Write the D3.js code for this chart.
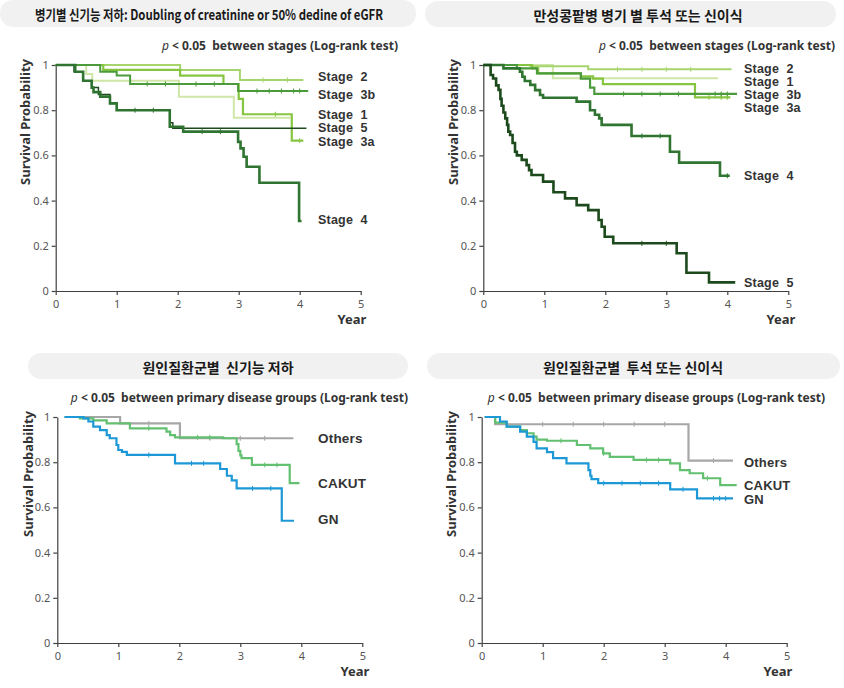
<!DOCTYPE html>
<html><head><meta charset="utf-8">
<script src="https://cdn.jsdelivr.net/npm/d3@7"></script>
<style>
body{margin:0;background:#fff;}
svg{display:block;}
</style></head>
<body><svg id="c" width="844" height="688"></svg>
<script>
// ---------- DATA ----------
const titles = ["병기별 신기능 저하: Doubling of creatinine or 50% dedine of eGFR",
                "만성콩팥병 병기 별 투석 또는 신이식",
                "원인질환군별  신기능 저하",
                "원인질환군별  투석 또는 신이식"];
const subtitles = ["between stages (Log-rank test)", "between stages (Log-rank test)",
                   "between primary disease groups (Log-rank test)", "between primary disease groups (Log-rank test)"];
const xTicks = [0, 1, 2, 3, 4, 5];
const yTicks = [0, 0.2, 0.4, 0.6, 0.8, 1];
const stageNames = ["Stage  1", "Stage  2", "Stage  3a", "Stage  3b", "Stage  4", "Stage  5"];
const groupNames = ["Others", "CAKUT", "GN"];

// Panel 1: kidney function decline by stage  [year, survival]
const p1Stage1 = [[0,1],[0.5,0.96],[0.6,0.93],[2.02,0.86],[2.92,0.767],[3.85,0.767]];
const p1Stage2 = [[0,1],[2.04,0.978],[3.02,0.934],[4.06,0.934]];
const p1Stage3a = [[0,1],[0.78,0.978],[2.04,0.953],[2.75,0.916],[3.0,0.85],[3.07,0.782],[3.87,0.665],[4.06,0.665]];
const p1Stage3b = [[0,1],[0.73,0.97],[1.0,0.953],[1.22,0.916],[2.99,0.885],[4.14,0.885]];
const p1Stage4 = [[0,1],[0.32,0.97],[0.45,0.93],[0.59,0.9],[0.62,0.88],[0.73,0.86],[0.89,0.83],[1.0,0.80],[1.87,0.727],[2.09,0.705],[2.99,0.66],[3.03,0.631],[3.08,0.594],[3.13,0.55],[3.34,0.479],[3.99,0.31],[4.03,0.31]];
const p1Stage5 = [[0,1],[0.3,0.97],[0.45,0.93],[0.59,0.9],[0.7,0.87],[0.89,0.83],[1.0,0.80],[1.87,0.745],[1.92,0.72],[4.11,0.72]];

// Panel 2: dialysis or transplant by stage
const p2Stage1 = [[0,1],[1.14,0.941],[3.85,0.941]];
const p2Stage2 = [[0,1],[0.77,0.995],[1.72,0.981],[4.07,0.981]];
const p2Stage3a = [[0,1],[0.8,0.985],[0.9,0.963],[1.6,0.95],[1.8,0.94],[1.96,0.915],[3.47,0.857],[4.05,0.857]];
const p2Stage3b = [[0,1],[0.55,0.985],[0.88,0.963],[1.6,0.94],[1.75,0.9],[1.82,0.872],[4.16,0.872]];
const p2Stage4 = [[0,1],[0.33,0.985],[0.6,0.97],[0.64,0.948],[0.68,0.929],[0.77,0.912],[0.85,0.889],[0.93,0.867],[0.98,0.855],[1.53,0.838],[1.75,0.8],[1.83,0.78],[1.9,0.764],[1.94,0.735],[2.43,0.686],[3.06,0.616],[3.21,0.568],[3.88,0.51],[4.04,0.51]];
const p2Stage5 = [[0,1],[0.12,0.956],[0.16,0.94],[0.21,0.91],[0.25,0.89],[0.28,0.85],[0.3,0.82],[0.33,0.79],[0.36,0.764],[0.39,0.735],[0.41,0.705],[0.44,0.69],[0.48,0.655],[0.52,0.616],[0.55,0.60],[0.63,0.58],[0.71,0.557],[0.75,0.535],[0.79,0.513],[0.98,0.484],[1.15,0.437],[1.34,0.41],[1.53,0.38],[1.72,0.358],[1.89,0.314],[1.94,0.284],[1.99,0.24],[2.13,0.211],[3.17,0.167],[3.33,0.081],[3.70,0.038],[4.13,0.038]];

// Panel 3: kidney function decline by primary disease
const p3Others = [[0.12,1],[1.03,0.972],[2.01,0.906],[3.87,0.906]];
const p3Cakut = [[0.12,1],[0.37,0.994],[0.59,0.985],[0.81,0.972],[1.19,0.95],[1.79,0.935],[1.85,0.92],[1.93,0.91],[2.72,0.906],[2.94,0.88],[2.97,0.85],[3.0,0.83],[3.02,0.818],[3.19,0.788],[3.81,0.707],[3.97,0.707]];
const p3Gn = [[0.12,1],[0.43,0.994],[0.51,0.98],[0.59,0.957],[0.7,0.942],[0.81,0.92],[0.86,0.906],[0.97,0.876],[1.0,0.854],[1.06,0.846],[1.14,0.832],[1.93,0.795],[2.67,0.77],[2.78,0.74],[2.86,0.72],[2.94,0.684],[3.68,0.541],[3.88,0.541]];

// Panel 4: dialysis or transplant by primary disease
const p4Others = [[0.05,1],[0.22,0.968],[3.39,0.807],[4.12,0.807]];
const p4Cakut = [[0.05,1],[0.22,0.975],[0.41,0.957],[0.63,0.942],[0.74,0.928],[0.85,0.913],[0.9,0.9],[1.07,0.895],[1.56,0.876],[1.78,0.861],[1.99,0.839],[2.1,0.824],[2.49,0.81],[3.09,0.795],[3.25,0.765],[3.41,0.751],[3.63,0.729],[3.91,0.699],[4.18,0.699]];
const p4Gn = [[0.05,1],[0.3,0.98],[0.41,0.957],[0.63,0.935],[0.74,0.913],[0.85,0.89],[0.9,0.861],[1.07,0.845],[1.17,0.818],[1.39,0.795],[1.75,0.765],[1.78,0.74],[1.8,0.725],[1.91,0.707],[3.09,0.68],[3.53,0.64],[4.12,0.64]];

// censor mark times
const p1Censor = {"Stage  3b":[1.5,1.8,2.3,2.6,3.3,3.5,3.7,3.9,4.0],"Stage  4":[1.3,1.6,2.4,2.7],"Stage  3a":[3.6,4.0],"Stage  2":[3.4,3.8]};
const p2Censor = {"Stage  2":[2.2,2.6,3.0,3.4],"Stage  3b":[2.3,2.6,2.9,3.2,3.8,3.9,4.0],"Stage  3a":[3.7,3.9,4.0],"Stage  4":[2.6,2.9,4.0],"Stage  5":[2.6,3.0]};
const p3Censor = {"Others":[1.5,2.5,3.0,3.4],"CAKUT":[1.5,2.3,2.5,3.4,3.6],"GN":[1.5,2.2,2.4,3.2,3.5]};
const p4Censor = {"Others":[1.0,1.5,2.0,2.5,3.0,3.8],"CAKUT":[1.3,2.0,2.7,2.9,3.7],"GN":[2.0,2.3,2.6,2.9,3.3,3.8,3.9,4.0]};

// ---------- DRAW ----------
const svg = d3.select("#c");
const stageColors = {"Stage  1":"#cfe6a8","Stage  2":"#a6d56e","Stage  3a":"#86c540","Stage  3b":"#4b9a3c","Stage  4":"#2f7430","Stage  5":"#1d4a1d"};
const stageWidths1 = {"Stage  1":2,"Stage  2":2,"Stage  3a":2.2,"Stage  3b":2,"Stage  4":2.6,"Stage  5":1.5};
const stageWidths2 = {"Stage  1":2,"Stage  2":2,"Stage  3a":2.2,"Stage  3b":2.2,"Stage  4":2.6,"Stage  5":2.6};
const groupColors = {"Others":"#a6a6a6","CAKUT":"#62c070","GN":"#1c98d6"};

function stepAt(series, t){ let v = series[0][1]; for (const d of series){ if (d[0] <= t) v = d[1]; } return v; }

const panels = [
  {title:titles[0], sub:subtitles[0], pill:[0,0,416,27], tx:209, ty:14, tLen:348, subX:398, subY:45,
   xr:[55.7,360.7], yr:[291,65], ylab:[25,122], year:[352,324], widths:stageWidths1, labSize:12.5,
   series:[["Stage  1",p1Stage1],["Stage  2",p1Stage2],["Stage  3a",p1Stage3a],["Stage  3b",p1Stage3b],["Stage  5",p1Stage5],["Stage  4",p1Stage4]],
   censor:p1Censor, labels:{"Stage  2":77,"Stage  3b":95,"Stage  1":115,"Stage  5":128,"Stage  3a":142,"Stage  4":220}, labX:318, colors:stageColors},
  {title:titles[1], sub:subtitles[1], pill:[425,1,411,26], tx:638, ty:15, tLen:null, subX:835, subY:45,
   xr:[483.3,788.3], yr:[291,65], ylab:[453,122], year:[781,324], widths:stageWidths2, labSize:12.5,
   series:[["Stage  1",p2Stage1],["Stage  2",p2Stage2],["Stage  3a",p2Stage3a],["Stage  3b",p2Stage3b],["Stage  4",p2Stage4],["Stage  5",p2Stage5]],
   censor:p2Censor, labels:{"Stage  2":69,"Stage  1":82,"Stage  3b":95,"Stage  3a":108,"Stage  4":176,"Stage  5":283}, labX:744, colors:stageColors},
  {title:titles[2], sub:subtitles[2], pill:[28,353,380,26], tx:218, ty:367, tLen:null, subX:408, subY:397,
   xr:[57.3,362.3], yr:[643,417], ylab:[28,474], year:[355,676], widths:{}, labSize:13.5,
   series:[["Others",p3Others],["CAKUT",p3Cakut],["GN",p3Gn]],
   censor:p3Censor, labels:{"Others":438,"CAKUT":483,"GN":519}, labX:318, colors:groupColors},
  {title:titles[3], sub:subtitles[3], pill:[427,353,413,26], tx:633, ty:367, tLen:null, subX:825, subY:397,
   xr:[481.7,786.7], yr:[643,417], ylab:[451,474], year:[778,676], widths:{}, labSize:13,
   series:[["Others",p4Others],["CAKUT",p4Cakut],["GN",p4Gn]],
   censor:p4Censor, labels:{"Others":462,"CAKUT":485,"GN":499}, labX:744, colors:groupColors}
];

panels.forEach(p => {
  const g = svg.append("g");
  // title pill
  g.append("rect").attr("x",p.pill[0]).attr("y",p.pill[1]).attr("width",p.pill[2]).attr("height",p.pill[3])
    .attr("rx",13).attr("fill","#f1f1f1");
  const tt = g.append("text").attr("x",p.tx).attr("y",p.ty).attr("text-anchor","middle").attr("dominant-baseline","central")
    .attr("font-family","'Noto Sans CJK KR','Noto Sans',sans-serif").attr("font-weight","bold").attr("font-size",14)
    .attr("fill","#1a1a1a").style("white-space","pre").text(p.title);
  if (p.tLen) tt.attr("textLength",p.tLen).attr("lengthAdjust","spacingAndGlyphs");
  // subtitle
  const st = g.append("text").attr("x",p.subX).attr("y",p.subY).attr("text-anchor","end").attr("dominant-baseline","central")
    .attr("font-family","'Noto Sans',sans-serif").attr("font-weight","bold").attr("font-size",12).attr("fill","#333");
  st.append("tspan").attr("font-style","italic").attr("font-weight","normal").text("p");
  st.append("tspan").style("white-space","pre").text(" < 0.05  " + p.sub);

  const x = d3.scaleLinear().domain([0,5]).range(p.xr);
  const y = d3.scaleLinear().domain([0,1]).range(p.yr);

  const xa = g.append("g").attr("transform",`translate(0,${p.yr[0]})`)
    .call(d3.axisBottom(x).tickValues(xTicks).tickSize(4).tickPadding(5).tickSizeOuter(0).tickFormat(d3.format("d")));
  const ya = g.append("g").attr("transform",`translate(${p.xr[0]},0)`)
    .call(d3.axisLeft(y).tickValues(yTicks).tickSize(4).tickPadding(3).tickSizeOuter(0)
      .tickFormat(d => d===0 ? "0" : d===1 ? "1" : d3.format(".1f")(d)));
  [xa,ya].forEach(a => {
    a.selectAll("path,line").attr("stroke","#404040").attr("stroke-width",1.2);
    a.selectAll("text").attr("font-family","'Noto Sans',sans-serif").attr("font-size",11).attr("fill","#555");
  });

  // axis titles
  g.append("text").attr("transform",`translate(${p.ylab[0]},${p.ylab[1]}) rotate(-90)`)
    .attr("text-anchor","middle").attr("dominant-baseline","central")
    .attr("font-family","'Noto Sans',sans-serif").attr("font-weight","bold").attr("font-size",13).attr("fill","#333")
    .text("Survival Probability");
  g.append("text").attr("x",p.year[0]).attr("y",p.year[1]).attr("text-anchor","middle")
    .attr("font-family","'Noto Sans',sans-serif").attr("font-weight","bold").attr("font-size",13).attr("fill","#333")
    .text("Year");

  // curves
  const line = d3.line().x(d => x(d[0])).y(d => y(d[1])).curve(d3.curveStepAfter);
  p.series.forEach(([name, data]) => {
    const col = p.colors[name];
    const w = p.widths[name] || 2.2;
    g.append("path").datum(data).attr("d",line).attr("fill","none").attr("stroke",col).attr("stroke-width",w);
    const cs = p.censor[name] || [];
    g.selectAll(null).data(cs).enter().append("line")
      .attr("x1",t=>x(t)).attr("x2",t=>x(t))
      .attr("y1",t=>y(stepAt(data,t))-2.5).attr("y2",t=>y(stepAt(data,t))+2.5)
      .attr("stroke",col).attr("stroke-width",1);
  });

  // series labels
  Object.entries(p.labels).forEach(([name, ly]) => {
    g.append("text").attr("x",p.labX).attr("y",ly).attr("dominant-baseline","central")
      .attr("font-family","'Liberation Sans',Arial,sans-serif").attr("font-weight","bold").attr("font-size",p.labSize)
      .attr("letter-spacing",0.2).attr("fill","#333")
      .style("white-space","pre").text(name);
  });
});
</script></body></html>
